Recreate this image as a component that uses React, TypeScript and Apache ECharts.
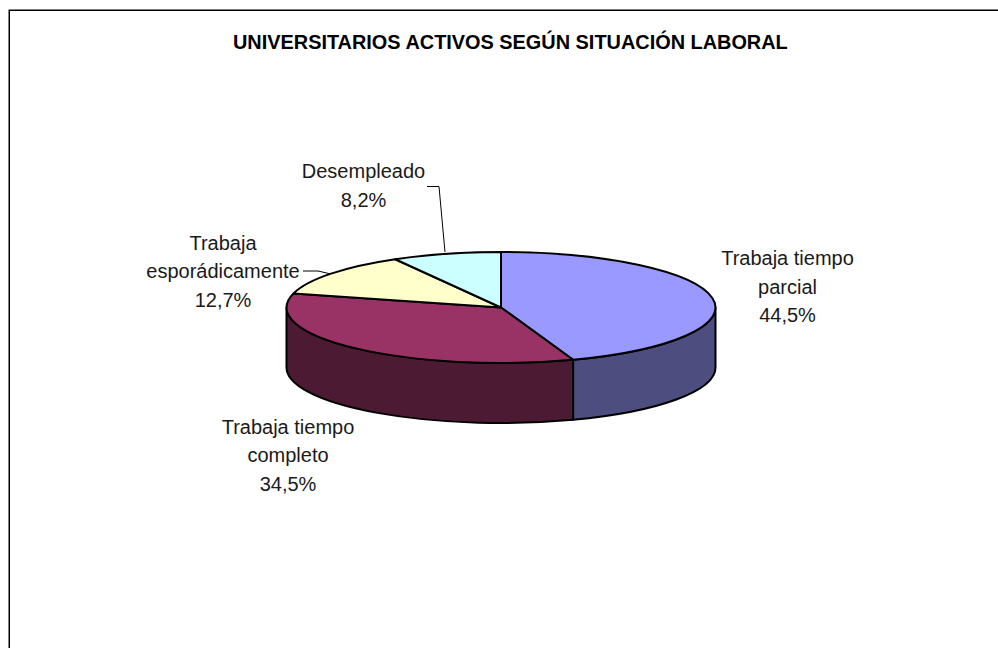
import React, { useEffect, useRef } from "react";
import * as echarts from "echarts";

const TITLE = "UNIVERSITARIOS ACTIVOS SEGÚN SITUACIÓN LABORAL";
const categories = ["Trabaja tiempo\nparcial", "Trabaja tiempo\ncompleto", "Trabaja\nesporádicamente", "Desempleado"];
const shares = [44.5, 34.5, 12.7, 8.2];
const topColors = ["#9999FF", "#993366", "#FFFFCC", "#CCFFFF"];
const sideColors = ["#4D4D80", "#4D1A33", "#808066", "#668080"];
const labelCentres = [[787.5, 286.5], [288, 455], [223, 271], [363.5, 185.5]];

const CX = 501, CY = 307.5, RX = 214.5, RY = 55.5, DEPTH = 60;
const FONT = "Liberation Sans, Arial, sans-serif";
const total = shares.reduce((a, b) => a + b, 0);

function angles(i: number) {
  let before = 0;
  for (let k = 0; k < i; k++) before += shares[k];
  return [(before / total) * Math.PI * 2, ((before + shares[i]) / total) * Math.PI * 2];
}
const px = (t: number) => CX + RX * Math.sin(t);
const py = (t: number) => CY - RY * Math.cos(t);
const f = (n: number) => n.toFixed(2);

function topPath(t1: number, t2: number) {
  const large = t2 - t1 > Math.PI ? 1 : 0;
  return `M${CX} ${CY}L${f(px(t1))} ${f(py(t1))}A${RX} ${RY} 0 ${large} 1 ${f(px(t2))} ${f(py(t2))}Z`;
}
function sidePath(t1: number, t2: number) {
  const a = Math.max(t1, Math.PI / 2), b = Math.min(t2, (Math.PI * 3) / 2);
  if (b <= a) return "";
  const large = b - a > Math.PI ? 1 : 0;
  return `M${f(px(a))} ${f(py(a))}A${RX} ${RY} 0 ${large} 1 ${f(px(b))} ${f(py(b))}` +
    `L${f(px(b))} ${f(py(b) + DEPTH)}A${RX} ${RY} 0 ${large} 0 ${f(px(a))} ${f(py(a) + DEPTH)}Z`;
}

export default function App() {
  const ref = useRef<HTMLDivElement>(null);
  useEffect(() => {
    const chart = echarts.init(ref.current!, null, { renderer: "svg" });
    const data = shares.map((v, i) => ({ name: categories[i].replace("\n", " "), value: [i, v] }));
    chart.setOption({
      animation: false,
      backgroundColor: "#ffffff",
      title: {
        text: TITLE,
        left: 233,
        top: 32,
        padding: 0,
        textStyle: { fontFamily: FONT, fontSize: 19.9, fontWeight: "bold", color: "#000000" },
      },
      series: [
        {
          type: "custom",
          coordinateSystem: "none",
          z: 2,
          data,
          renderItem: (_p: any, api: any) => {
            const [t1, t2] = angles(api.value(0));
            const d = sidePath(t1, t2);
            if (!d) return { type: "group", children: [] };
            return {
              type: "path",
              shape: { pathData: d },
              style: { fill: sideColors[api.value(0)], stroke: "#000000", lineWidth: 2, lineJoin: "round" },
            };
          },
        },
        {
          type: "custom",
          coordinateSystem: "none",
          z: 3,
          data,
          renderItem: (_p: any, api: any) => {
            const [t1, t2] = angles(api.value(0));
            return {
              type: "path",
              shape: { pathData: topPath(t1, t2) },
              style: { fill: topColors[api.value(0)], stroke: "#000000", lineWidth: 2, lineJoin: "round" },
            };
          },
        },
      ],
      graphic: [
        {
          type: "polyline",
          z: 1,
          silent: true,
          shape: { points: [[9.25, 648], [9.25, 10.25], [998, 10.25]] },
          style: { stroke: "#000000", lineWidth: 1.5, fill: "none" },
        },
        {
          type: "polyline",
          z: 1,
          silent: true,
          shape: { points: [[427, 186.5], [439, 186.5], [445, 252]] },
          style: { stroke: "#000000", lineWidth: 1, fill: "none" },
        },
        {
          type: "polyline",
          z: 1,
          silent: true,
          shape: { points: [[303, 271], [318, 271], [331, 274]] },
          style: { stroke: "#000000", lineWidth: 1, fill: "none" },
        },
        ...shares.map((v, i) => ({
          type: "text",
          z: 5,
          silent: true,
          x: labelCentres[i][0],
          y: labelCentres[i][1],
          style: {
            text: `${categories[i]}\n${v.toFixed(1).replace(".", ",")}%`,
            font: `20px ${FONT}`,
            fill: "#1a1a1a",
            align: "center",
            verticalAlign: "middle",
            lineHeight: 28.5,
          },
        })),
      ],
    });
    return () => chart.dispose();
  }, []);
  return <div ref={ref} style={{ position: "fixed", left: 0, top: 0, width: 998, height: 648 }} />;
}
